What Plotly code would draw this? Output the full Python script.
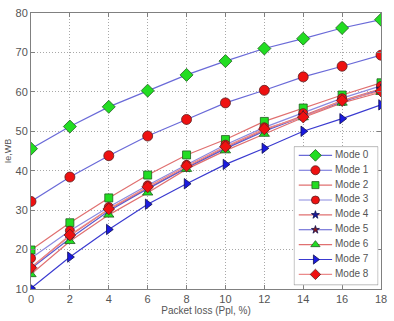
import plotly.graph_objects as go

x_vals = [0, 2, 4, 6, 8, 10, 12, 14, 16, 18]
y_ticks = [10, 20, 30, 40, 50, 60, 70, 80]
mode0 = [45.6, 51.2, 56.2, 60.3, 64.3, 67.8, 71.0, 73.5, 76.2, 78.3]
mode1 = [32.2, 38.4, 43.8, 48.8, 53.0, 57.2, 60.4, 63.8, 66.5, 69.3]
mode2 = [19.9, 26.8, 33.1, 38.9, 44.0, 47.9, 52.5, 55.9, 59.2, 62.3]
mode3 = [17.8, 24.8, 30.8, 36.3, 41.5, 46.6, 51.0, 54.6, 58.4, 61.5]
mode4 = [15.5, 23.5, 30.2, 35.6, 40.9, 45.9, 50.3, 54.0, 57.8, 60.8]
mode5 = [15.2, 22.8, 29.8, 35.4, 40.7, 45.6, 50.0, 53.8, 57.5, 60.5]
mode6 = [13.7, 22.1, 28.8, 34.4, 40.4, 45.1, 49.3, 53.5, 57.2, 59.9]
mode7 = [10.2, 18.1, 25.1, 31.5, 36.7, 41.6, 45.7, 50.0, 53.2, 56.7]
mode8 = [15.4, 23.7, 30.3, 35.9, 41.2, 46.1, 50.6, 53.6, 57.8, 60.2]

names = ["Mode 0", "Mode 1", "Mode 2", "Mode 3", "Mode 4", "Mode 5", "Mode 6", "Mode 7", "Mode 8"]
series = [mode0, mode1, mode2, mode3, mode4, mode5, mode6, mode7, mode8]

styles = [
    dict(line="#6a6ad8", sym="diamond", mc="#22dd22", size=10),
    dict(line="#6a6ad8", sym="circle", mc="#ee1111", size=10),
    dict(line="#e07070", sym="square", mc="#22dd22", size=8),
    dict(line="#8a8ae0", sym="circle", mc="#ee1111", size=9),
    dict(line="#e07070", sym="star", mc="#1a1a9a", size=7),
    dict(line="#5a5ad0", sym="star", mc="#8a1a1a", size=7),
    dict(line="#e07070", sym="triangle-up", mc="#22dd22", size=9),
    dict(line="#3a3ad0", sym="triangle-right", mc="#1a1ae0", size=9),
    dict(line="#eb8a8a", sym="diamond", mc="#ee1111", size=9),
]


def outline(mc):
    return "#5a2020" if mc == "#ee1111" else ("#206020" if mc == "#22dd22" else "#101050")


fig = go.Figure()
for name, ys, st in zip(names, series, styles):
    fig.add_trace(go.Scatter(
        x=x_vals, y=ys, name=name, mode="lines+markers", showlegend=False,
        line=dict(color=st["line"], width=1.2),
        marker=dict(symbol=st["sym"], color=st["mc"], size=st["size"],
                    line=dict(color=outline(st["mc"]), width=0.8)),
    ))

# ---- manual MATLAB-style legend on an overlay axis (legend-box units) ----
LX0, LX1, LY0, LY1 = 0.0, 86.0, 0.0, 142.0
fig.add_trace(go.Scatter(
    x=[LX0, LX1, LX1, LX0, LX0], y=[LY0, LY0, LY1, LY1, LY0],
    xaxis="x2", yaxis="y2", mode="lines", fill="toself",
    fillcolor="white", line=dict(color="#808080", width=1),
    showlegend=False, hoverinfo="skip"))
row_h = 15.25
for i, (name, st) in enumerate(zip(names, styles)):
    yy = 9 + i * row_h
    fig.add_trace(go.Scatter(
        x=[5, 39], y=[yy, yy], xaxis="x2", yaxis="y2", mode="lines",
        line=dict(color=st["line"], width=1.2), showlegend=False, hoverinfo="skip"))
    fig.add_trace(go.Scatter(
        x=[22], y=[yy], xaxis="x2", yaxis="y2", mode="markers",
        marker=dict(symbol=st["sym"], color=st["mc"], size=st["size"] - 1,
                    line=dict(color=outline(st["mc"]), width=0.8)),
        showlegend=False, hoverinfo="skip"))
    fig.add_trace(go.Scatter(
        x=[42], y=[yy], xaxis="x2", yaxis="y2", mode="text", text=[name],
        textposition="middle right",
        textfont=dict(family="Arial, Liberation Sans", size=10, color="#555555"),
        showlegend=False, hoverinfo="skip"))

axis_common = dict(
    showgrid=True, gridcolor="#a8a8a8", griddash="1px,2px", gridwidth=1,
    showline=True, linecolor="#808080", linewidth=1, mirror="ticks",
    ticks="inside", ticklen=4, tickcolor="#808080",
    tickfont=dict(family="Arial, Liberation Sans", size=11, color="#555555"),
    zeroline=False,
)

fig.update_layout(
    width=394, height=321,
    margin=dict(l=29, r=7, t=8, b=30),
    paper_bgcolor="white", plot_bgcolor="white",
    showlegend=False,
    xaxis=dict(domain=[0, 1], range=[0, 18], tickvals=x_vals, **axis_common,
               title=dict(text="Packet loss (Ppl, %)", standoff=2,
                          font=dict(family="Arial, Liberation Sans", size=10, color="#555555"))),
    yaxis=dict(domain=[0, 1], range=[10, 80], tickvals=y_ticks, **axis_common,
               title=dict(text="Ie,WB", standoff=2,
                          font=dict(family="Arial, Liberation Sans", size=9, color="#555555"))),
    xaxis2=dict(domain=[0.751, 0.992], range=[LX0, LX1], anchor="y2",
                visible=False, fixedrange=True),
    yaxis2=dict(domain=[0.014, 0.516], range=[LY1, LY0], anchor="x2",
                visible=False, fixedrange=True),
)

fig.write_html("out.html")
